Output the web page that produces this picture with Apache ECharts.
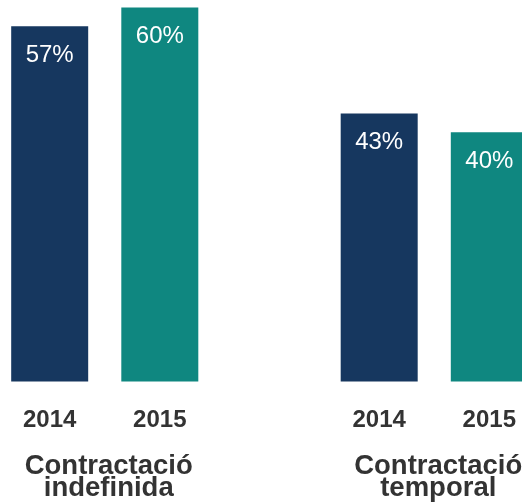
<!DOCTYPE html>
<html>
<head>
<meta charset="utf-8">
<script src="https://cdn.jsdelivr.net/npm/echarts@6/dist/echarts.min.js"></script>
<style>
html,body{margin:0;padding:0;background:#fff;}
#chart{width:522px;height:504px;}
</style>
</head>
<body>
<div id="chart"></div>
<script>
const categories = ['Contractació\nindefinida', 'Contractació\ntemporal'];
const years = ['2014', '2015'];
const values2014 = [57, 43];
const values2015 = [60, 40];
const yearAnchor = [0, 0];

const colors = ['#16375f', '#0f8780'];
const font = '"Liberation Sans", Arial, Helvetica, sans-serif';

function yearLabelSeries(year) {
  return {
    name: year, type: 'bar', stack: 's' + year, data: yearAnchor,
    barWidth: 77, barGap: '43%', silent: true,
    itemStyle: { color: 'transparent' },
    label: {
      show: true, position: 'bottom', distance: 27,
      formatter: '{a}', color: '#333333',
      fontFamily: font, fontWeight: 'bold', fontSize: 24, lineHeight: 24
    }
  };
}
function valueSeries(year, data, color) {
  return {
    name: year, type: 'bar', stack: 's' + year, data: data,
    barWidth: 77, barGap: '43%',
    itemStyle: { color: color },
    label: {
      show: true, position: 'insideTop', distance: 17,
      formatter: '{c}%', color: '#ffffff',
      fontFamily: font, fontSize: 24, lineHeight: 24
    }
  };
}

const chart = echarts.init(document.getElementById('chart'), null, { renderer: 'canvas' });
chart.setOption({
  animation: false,
  backgroundColor: '#ffffff',
  grid: { left: -60, right: -77, top: 7.5, bottom: 122.5, containLabel: false, outerBoundsMode: 'none' },
  xAxis: {
    type: 'category', data: categories,
    axisLine: { show: false }, axisTick: { show: false },
    axisLabel: {
      margin: 74, color: '#333333', fontFamily: font,
      fontWeight: 'bold', fontSize: 27.5, lineHeight: 22, interval: 0,
      padding: [0, 0, 0, 8]
    }
  },
  yAxis: {
    type: 'value', min: 0, max: 60, show: false,
    splitLine: { show: false }
  },
  series: [
    yearLabelSeries(years[0]),
    valueSeries(years[0], values2014, colors[0]),
    yearLabelSeries(years[1]),
    valueSeries(years[1], values2015, colors[1])
  ]
});
</script>
</body>
</html>
